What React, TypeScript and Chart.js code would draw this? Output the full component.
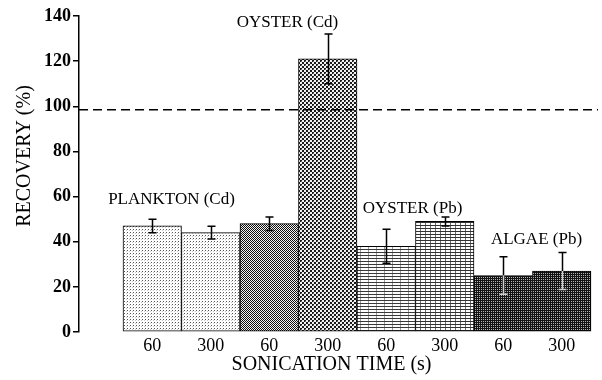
import React, { useEffect, useRef } from "react";
import { Chart, registerables } from "chart.js";

Chart.register(...registerables);

// ---- data ----
const positions = [1, 2, 3, 4, 5, 6, 7, 8];
const sonicationTimes = ["60", "300", "60", "300", "60", "300", "60", "300"];
const recovery = [47, 44, 48, 121, 38, 49, 25, 27];
const recoveryError = [3, 2.8, 3, 11, 7.5, 2, 8.3, 8.2];
const sampleLabels = ["PLANKTON (Cd)", "OYSTER (Cd)", "OYSTER (Pb)", "ALGAE (Pb)"];
const referenceLevel = 98.5;
const yTicksMin = 0;
const yTicksMax = 140;
const yTickStep = 20;

const FONT = "'Liberation Serif', 'Times New Roman', serif";

// annotation anchors (group centre in data units, y in data units, pixel nudge)
const labelAnchor = [
  { x: 1.5, y: 58.5, dx: -10 },
  { x: 3.5, y: 137, dx: -11 },
  { x: 5.5, y: 54.5, dx: -3 },
  { x: 7.5, y: 40.8, dx: 4 },
];
const lowerErrColor = ["#000", "#000", "#000", "#000", "#000", "#000", "#cfcfcf", "#cfcfcf"];

function makePattern(w: number, h: number, draw: (g: CanvasRenderingContext2D) => void) {
  const c = document.createElement("canvas");
  c.width = w;
  c.height = h;
  const g = c.getContext("2d")!;
  draw(g);
  return g.createPattern(c, "repeat")!;
}
function px(g: CanvasRenderingContext2D, x: number, y: number, col: string, w = 1, h = 1) {
  g.fillStyle = col;
  g.fillRect(x, y, w, h);
}

function buildPatterns() {
  const light = makePattern(3, 3, (g) => {
    px(g, 0, 0, "#fff", 3, 3);
    px(g, 1, 1, "#555");
    px(g, 0, 2, "#c8c8c8");
  });
  const checker = makePattern(2, 2, (g) => {
    px(g, 0, 0, "#f4f4f4", 2, 2);
    px(g, 0, 0, "#111");
    px(g, 1, 1, "#111");
  });
  const checker2 = makePattern(4, 4, (g) => {
    px(g, 0, 0, "#f2f2f2", 4, 4);
    px(g, 0, 0, "#1a1a1a", 2, 2);
    px(g, 2, 2, "#1a1a1a", 2, 2);
    px(g, 1, 1, "#777");
  });
  const lines1 = makePattern(8, 3, (g) => {
    px(g, 0, 0, "#fff", 8, 3);
    px(g, 0, 0, "#3a3a3a", 8, 1);
    px(g, 0, 1, "#9a9a9a", 1, 2);
  });
  const lines2 = makePattern(5, 3, (g) => {
    px(g, 0, 0, "#fff", 5, 3);
    px(g, 0, 0, "#333", 5, 1);
    px(g, 0, 1, "#6a6a6a", 1, 2);
  });
  const dark = makePattern(2, 2, (g) => {
    px(g, 0, 0, "#121212", 2, 2);
    px(g, 1, 1, "#b5b5b5");
  });
  return [light, light, checker, checker2, lines1, lines2, dark, dark];
}

const overlayPlugin = {
  id: "overlay",
  afterDatasetsDraw(chart: any) {
    const { ctx, chartArea, scales } = chart;
    const xs = scales.x;
    const ys = scales.y;
    ctx.save();
    // reference dashed line
    ctx.strokeStyle = "#000";
    ctx.lineWidth = 1.5;
    ctx.setLineDash([9, 5]);
    const yr = ys.getPixelForValue(referenceLevel);
    ctx.beginPath();
    ctx.moveTo(chartArea.left, yr);
    ctx.lineTo(chartArea.right, yr);
    ctx.stroke();
    ctx.setLineDash([]);
    // error bars
    positions.forEach((p, i) => {
      const x = Math.round(xs.getPixelForValue(p)) + 0.5;
      const yv = ys.getPixelForValue(recovery[i]);
      const yt = ys.getPixelForValue(recovery[i] + recoveryError[i]);
      const yb = ys.getPixelForValue(recovery[i] - recoveryError[i]);
      ctx.lineWidth = 1.5;
      ctx.strokeStyle = "#000";
      ctx.beginPath();
      ctx.moveTo(x, yv);
      ctx.lineTo(x, yt);
      ctx.moveTo(x - 4, yt);
      ctx.lineTo(x + 4, yt);
      ctx.stroke();
      ctx.strokeStyle = lowerErrColor[i];
      ctx.beginPath();
      ctx.moveTo(x, yv);
      ctx.lineTo(x, yb);
      ctx.moveTo(x - 4, yb);
      ctx.lineTo(x + 4, yb);
      ctx.stroke();
    });
    // group labels
    ctx.fillStyle = "#000";
    ctx.font = `17px ${FONT}`;
    ctx.textAlign = "center";
    ctx.textBaseline = "middle";
    sampleLabels.forEach((t, i) => {
      const a = labelAnchor[i];
      ctx.fillText(t, xs.getPixelForValue(a.x) + a.dx, ys.getPixelForValue(a.y));
    });
    // axis titles
    ctx.font = `20px ${FONT}`;
    ctx.fillText("SONICATION TIME (s)", (chartArea.left + chartArea.right) / 2 - 7, chartArea.bottom + 33);
    ctx.translate(25, (chartArea.top + chartArea.bottom) / 2 - 18);
    ctx.rotate(-Math.PI / 2);
    ctx.fillText("RECOVERY (%)", 0, 0);
    ctx.restore();
  },
};

export default function App() {
  const ref = useRef<HTMLCanvasElement>(null);
  useEffect(() => {
    document.body.style.margin = "0";
    const canvas = ref.current!;
    const patterns = buildPatterns();
    const chart = new Chart(canvas, {
      type: "bar",
      data: {
        datasets: [
          {
            data: positions.map((p, i) => ({ x: p, y: recovery[i] })) as any,
            backgroundColor: patterns as any,
            borderColor: "#000",
            borderWidth: 1,
            borderSkipped: false,
            barPercentage: 1,
            categoryPercentage: 1,
          },
        ],
      },
      options: {
        animation: false,
        responsive: false,
        layout: { padding: { top: 16, right: 4, left: 0, bottom: 0 } },
        plugins: { legend: { display: false }, tooltip: { enabled: false } },
        scales: {
          x: {
            type: "linear",
            offset: false,
            min: -0.252,
            max: 8.62,
            afterBuildTicks: (s: any) => {
              s.ticks = positions.map((v) => ({ value: v }));
            },
            afterFit: (s: any) => {
              s.height = 48;
            },
            ticks: {
              autoSkip: false,
              maxRotation: 0,
              padding: 3,
              color: "#000",
              font: { family: FONT, size: 18 },
              callback: (v: any) => {
                const k = positions.indexOf(Number(v));
                return k >= 0 ? sonicationTimes[k] : "";
              },
            },
            grid: { display: false, drawTicks: false },
            border: { display: false },
          },
          y: {
            min: yTicksMin,
            max: yTicksMax,
            afterFit: (s: any) => {
              s.width = 79;
            },
            ticks: {
              stepSize: yTickStep,
              padding: 2,
              color: "#000",
              font: { family: FONT, size: 18, weight: "bold" },
            },
            grid: { drawOnChartArea: false, drawTicks: true, tickLength: 6, color: "#000", lineWidth: 1.5 },
            border: { display: true, color: "#000", width: 1.5 },
          },
        },
      },
      plugins: [overlayPlugin],
    } as any);
    return () => chart.destroy();
  }, []);
  return <canvas ref={ref} width={602} height={380} style={{ display: "block" }} />;
}
